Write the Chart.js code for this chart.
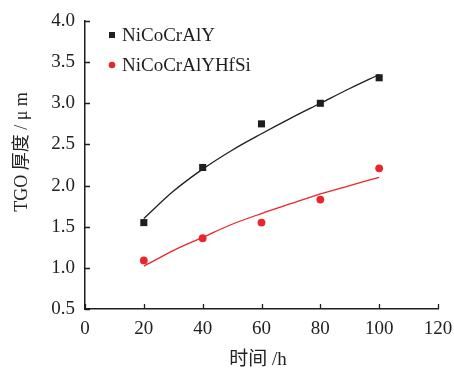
<!DOCTYPE html>
<html>
<head>
<meta charset="utf-8">
<script src="https://cdn.jsdelivr.net/npm/chart.js@4.4.0/dist/chart.umd.min.js"></script>
<style>
html,body{margin:0;padding:0;background:#fff;}
#wrap{width:454px;height:371px;position:relative;}
</style>
</head>
<body>
<div id="wrap"><canvas id="c" width="454" height="371"></canvas></div>
<script>
// Measured data (time in h, TGO thickness in μm)
const hours = [20, 40, 60, 80, 100];
const nicocraly = [1.55, 2.22, 2.75, 3.00, 3.31];
const nicocralyhfsi = [1.09, 1.36, 1.55, 1.83, 2.21];
// Fitted curves
const fitHours = [20, 30, 40, 50, 60, 70, 80, 90, 100];
const fitNiCoCrAlY = [1.60, 1.93, 2.20, 2.43, 2.63, 2.82, 3.00, 3.18, 3.35];
const fitNiCoCrAlYHfSi = [1.02, 1.21, 1.37, 1.53, 1.66, 1.78, 1.90, 2.00, 2.10];
// Axis ticks
const xTicks = [0, 20, 40, 60, 80, 100, 120];
const yTicks = [0.5, 1.0, 1.5, 2.0, 2.5, 3.0, 3.5, 4.0];
const seriesLabels = ['NiCoCrAlY', 'NiCoCrAlYHfSi'];
const xTitle = '时间 /h';
const yTitle = 'TGO 厚度 / μ m';

const BLACK = '#1e1e1e';
const RED = '#e8262b';
const FONT = '"Liberation Serif", "Noto Sans CJK SC", serif';

const pts = (xs, ys) => xs.map((x, i) => ({x: x, y: ys[i]}));

const inwardTicks = {
  id: 'inwardTicks',
  afterDatasetsDraw(chart) {
    const ctx = chart.ctx;
    const xs = chart.scales.x, ys = chart.scales.y;
    const ca = chart.chartArea;
    ctx.save();
    ctx.strokeStyle = BLACK;
    ctx.lineWidth = 1.3;
    ctx.beginPath();
    xTicks.forEach(v => {
      const px = Math.round(xs.getPixelForValue(v)) + 0.5;
      ctx.moveTo(px, ca.bottom);
      ctx.lineTo(px, ca.bottom - 5);
    });
    yTicks.forEach(v => {
      const py = Math.round(ys.getPixelForValue(v)) + 0.5;
      ctx.moveTo(ca.left, py);
      ctx.lineTo(ca.left + 5, py);
    });
    ctx.stroke();
    ctx.restore();
  }
};

const titlesAndLegend = {
  id: 'titlesAndLegend',
  afterDraw(chart) {
    const ctx = chart.ctx;
    ctx.save();
    // axis titles
    ctx.fillStyle = '#222';
    ctx.textAlign = 'center';
    ctx.textBaseline = 'middle';
    ctx.font = '19px ' + FONT;
    ctx.fillText(xTitle, 258, 360);
    ctx.save();
    ctx.translate(22, 152);
    ctx.rotate(-Math.PI / 2);
    ctx.font = '18px ' + FONT;
    ctx.fillText(yTitle, 0, 0);
    ctx.restore();
    // legend
    ctx.textAlign = 'left';
    ctx.font = '19px ' + FONT;
    const rows = [
      {label: seriesLabels[0], style: 'rect', color: BLACK, y: 35},
      {label: seriesLabels[1], style: 'circle', color: RED, y: 65}
    ];
    rows.forEach(r => {
      ctx.fillStyle = r.color;
      if (r.style === 'rect') {
        ctx.fillRect(109, r.y - 3, 6, 6);
      } else {
        ctx.beginPath();
        ctx.arc(112, r.y, 3.3, 0, Math.PI * 2);
        ctx.fill();
      }
      ctx.fillStyle = BLACK;
      ctx.fillText(r.label, 122, r.y + 1);
    });
    ctx.restore();
  }
};

new Chart(document.getElementById('c'), {
  type: 'scatter',
  data: {
    datasets: [
      {label: seriesLabels[0], data: pts(hours, nicocraly), pointStyle: 'rect', pointRadius: 5, backgroundColor: BLACK, borderColor: BLACK, borderWidth: 0, showLine: false},
      {label: seriesLabels[1], data: pts(hours, nicocralyhfsi), pointStyle: 'circle', pointRadius: 3.9, backgroundColor: RED, borderColor: RED, borderWidth: 0, showLine: false},
      {label: 'fit1', data: pts(fitHours, fitNiCoCrAlY), showLine: true, pointRadius: 0, borderColor: BLACK, borderWidth: 1.3, cubicInterpolationMode: 'monotone', fill: false},
      {label: 'fit2', data: pts(fitHours, fitNiCoCrAlYHfSi), showLine: true, pointRadius: 0, borderColor: RED, borderWidth: 1.3, cubicInterpolationMode: 'monotone', fill: false}
    ]
  },
  options: {
    responsive: false,
    animation: false,
    devicePixelRatio: 1,
    layout: {padding: {top: 21, right: 16, left: 0, bottom: 0}},
    plugins: {legend: {display: false}, tooltip: {enabled: false}},
    scales: {
      x: {
        type: 'linear', min: 0, max: 120,
        afterBuildTicks: s => { s.ticks = xTicks.map(v => ({value: v})); },
        afterFit: s => { s.height = 62; s.paddingLeft = 0; s.paddingRight = 0; },
        grid: {display: true, drawOnChartArea: false, drawTicks: false, color: 'rgba(0,0,0,0)'},
        border: {display: true, color: BLACK, width: 1.5},
        ticks: {padding: 9, color: '#222', font: {family: FONT, size: 19}, maxRotation: 0, callback: v => String(v)},
        title: {display: false}
      },
      y: {
        type: 'linear', min: 0.5, max: 4.0,
        afterBuildTicks: s => { s.ticks = yTicks.map(v => ({value: v})); },
        afterFit: s => { s.width = 85; s.paddingTop = 0; s.paddingBottom = 0; },
        grid: {display: true, drawOnChartArea: false, drawTicks: false, color: 'rgba(0,0,0,0)'},
        border: {display: true, color: BLACK, width: 1.5},
        ticks: {padding: 10, color: '#222', font: {family: FONT, size: 19}, callback: v => Number(v).toFixed(1)},
        title: {display: false}
      }
    }
  },
  plugins: [inwardTicks, titlesAndLegend]
});
</script>
</body>
</html>
